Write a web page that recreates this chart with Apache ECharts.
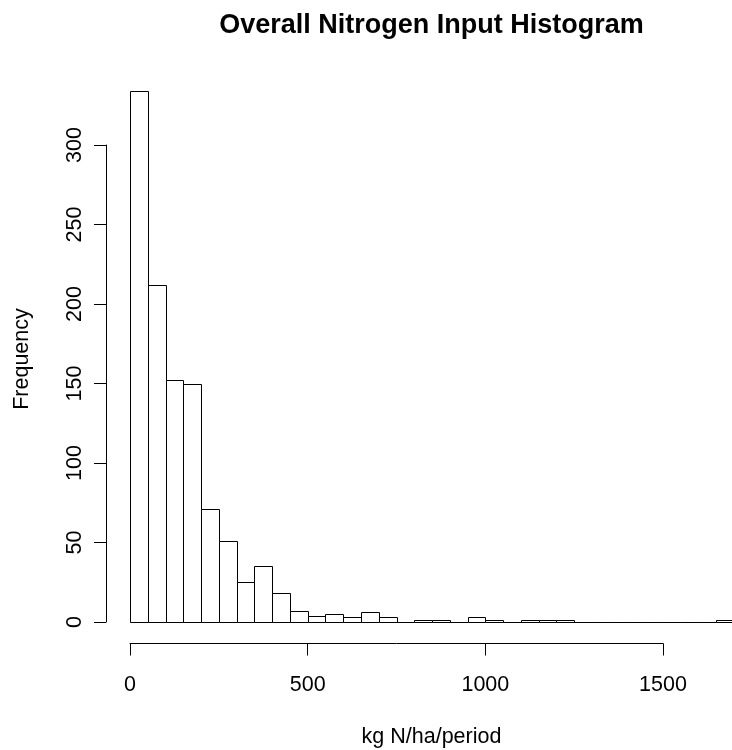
<!DOCTYPE html>
<html>
<head>
<meta charset="utf-8">
<title>Overall Nitrogen Input Histogram</title>
<script src="https://cdn.jsdelivr.net/npm/echarts@6/dist/echarts.min.js"></script>
<style>
  html, body { margin: 0; padding: 0; background: #fff; }
  #main { width: 732px; height: 750px; }
</style>
</head>
<body>
<div id="main"></div>
<script>
// histogram breaks (kg N/ha/period) and counts per bin
var binEdges = [0, 50, 100, 150, 200, 250, 300, 350, 400, 450, 500, 550, 600, 650, 700, 750, 800, 850,
                900, 950, 1000, 1050, 1100, 1150, 1200, 1250, 1300, 1350, 1400, 1450, 1500, 1550, 1600, 1650, 1700];
var counts = [334, 212, 152, 150, 71, 51, 25, 35, 18, 7, 4, 5, 3, 6, 3, 0, 1, 1, 0, 3,
              1, 0, 1, 1, 1, 0, 0, 0, 0, 0, 0, 0, 0, 1];
var xTicks = [0, 500, 1000, 1500];
var yTicks = [0, 50, 100, 150, 200, 250, 300];

var FONT = 'Liberation Sans, Arial, Helvetica, sans-serif';

// one row per bin: [start, end, count]
var bins = counts.map(function (c, i) {
  return [binEdges[i], binEdges[i + 1], c];
});

function renderBar(params, api) {
  var lo = api.coord([api.value(0), 0]);
  var hi = api.coord([api.value(1), api.value(2)]);
  var x0 = Math.round(lo[0]) + 0.5;
  var x1 = Math.round(hi[0]) + 0.5;
  var yb = Math.round(lo[1]) + 0.5;
  var yt = Math.round(hi[1]) + 0.5;
  return {
    type: 'rect',
    shape: { x: x0, y: yt, width: x1 - x0, height: yb - yt },
    style: { fill: '#fff', stroke: '#000', lineWidth: 1 }
  };
}

var myChart = echarts.init(document.getElementById('main'));
myChart.setOption({
  backgroundColor: '#fff',
  animation: false,
  title: {
    text: 'Overall Nitrogen Input Histogram',
    left: 426.5,
    top: 7,
    textAlign: 'center',
    textStyle: { fontFamily: FONT, fontSize: 27, fontWeight: 'bold', color: '#000' }
  },
  grid: { left: 130, top: 145, width: 533, height: 477 },
  xAxis: {
    type: 'value',
    min: xTicks[0],
    max: xTicks[xTicks.length - 1],
    interval: xTicks[1] - xTicks[0],
    offset: 21.5,
    splitLine: { show: false },
    axisLine: { show: true, onZero: false, lineStyle: { color: '#000', width: 1 } },
    axisTick: { show: true, length: 12, lineStyle: { color: '#000', width: 1 } },
    axisLabel: {
      margin: 31, color: '#000', fontFamily: FONT, fontSize: 21.5,
      formatter: function (v) { return String(v); }
    }
  },
  yAxis: {
    type: 'value',
    min: yTicks[0],
    max: yTicks[yTicks.length - 1],
    interval: yTicks[1] - yTicks[0],
    offset: 24,
    splitLine: { show: false },
    axisLine: { show: true, onZero: false, lineStyle: { color: '#000', width: 1 } },
    axisTick: { show: true, length: 12, lineStyle: { color: '#000', width: 1 } },
    axisLabel: { rotate: 90, margin: 20, color: '#000', fontFamily: FONT, fontSize: 21.5 }
  },
  graphic: [
    {
      type: 'text', x: 431.5, y: 737,
      style: { text: 'kg N/ha/period', font: '21.5px ' + FONT, fill: '#000', align: 'center', verticalAlign: 'middle' }
    },
    {
      type: 'text', x: 22, y: 359, rotation: Math.PI / 2,
      style: { text: 'Frequency', font: '21.5px ' + FONT, fill: '#000', align: 'center', verticalAlign: 'middle' }
    }
  ],
  series: [{
    type: 'custom',
    clip: false,
    renderItem: renderBar,
    encode: { x: [0, 1], y: 2 },
    data: bins
  }]
});
</script>
</body>
</html>
